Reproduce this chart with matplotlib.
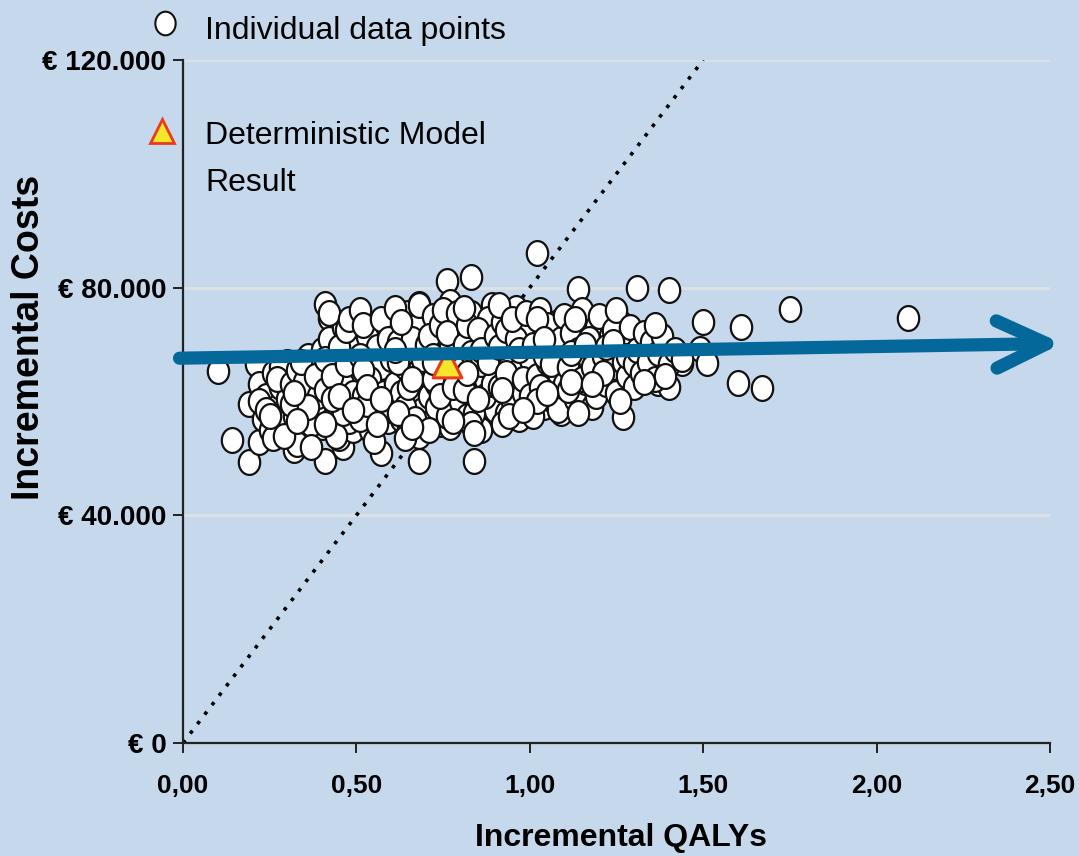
import numpy as np
import matplotlib.pyplot as plt
from matplotlib.patches import ArrowStyle
from matplotlib.path import Path

plt.rcParams['font.family'] = ['Liberation Sans', 'DejaVu Sans']

# Incremental QALYs / incremental costs (k EUR) of the simulation runs
qalys = [
    0.10, 0.14, 0.19, 0.19, 0.22, 0.32, 0.41, 0.68, 0.84, 0.57, 0.46,
    0.76, 0.83, 1.02, 1.14, 1.31, 1.40, 1.50, 1.61, 1.60, 1.67, 1.75, 2.09,
    1.49, 1.51, 1.44, 1.37, 1.40, 1.27, 0.68, 0.41, 0.42,
    0.21, 0.22, 0.23, 0.24, 0.25, 0.26, 0.27, 0.28, 0.29, 0.30, 0.22, 0.26, 0.28, 0.24, 0.30, 0.27,
    0.31, 0.32, 0.33, 0.34, 0.35, 0.36, 0.37, 0.38, 0.39, 0.40, 0.31, 0.33, 0.35, 0.37, 0.39, 0.34,
    0.36, 0.38, 0.32, 0.40,
    0.41, 0.42, 0.43, 0.44, 0.45, 0.46, 0.47, 0.48, 0.49, 0.50, 0.42, 0.44, 0.46, 0.48, 0.50, 0.41,
    0.43, 0.45, 0.47, 0.49, 0.44, 0.46, 0.48, 0.50, 0.43, 0.47,
    0.51, 0.52, 0.53, 0.54, 0.55, 0.56, 0.57, 0.58, 0.59, 0.60, 0.51, 0.53, 0.55, 0.57, 0.59, 0.52,
    0.54, 0.56, 0.58, 0.60, 0.51, 0.53, 0.55, 0.57, 0.59, 0.60, 0.52, 0.56,
    0.61, 0.62, 0.63, 0.64, 0.65, 0.66, 0.67, 0.68, 0.69, 0.70, 0.61, 0.63, 0.65, 0.67, 0.69, 0.62,
    0.64, 0.66, 0.68, 0.70, 0.61, 0.63, 0.65, 0.67, 0.69, 0.64, 0.66, 0.68, 0.70,
    0.71, 0.72, 0.73, 0.74, 0.75, 0.76, 0.77, 0.78, 0.79, 0.80, 0.71, 0.73, 0.75, 0.77, 0.79, 0.72,
    0.74, 0.76, 0.78, 0.80, 0.71, 0.73, 0.75, 0.77, 0.79, 0.72, 0.76, 0.80, 0.74, 0.78,
    0.81, 0.82, 0.83, 0.84, 0.85, 0.86, 0.87, 0.88, 0.89, 0.90, 0.81, 0.83, 0.85, 0.87, 0.89, 0.82,
    0.84, 0.86, 0.88, 0.90, 0.81, 0.83, 0.85, 0.87, 0.89, 0.82, 0.86, 0.90, 0.84, 0.88,
    0.91, 0.92, 0.93, 0.94, 0.95, 0.96, 0.97, 0.98, 0.99, 1.00, 0.91, 0.93, 0.95, 0.97, 0.99, 0.92,
    0.94, 0.96, 0.98, 1.00, 0.91, 0.93, 0.95, 0.97, 0.99, 0.94, 0.98, 1.00,
    1.01, 1.02, 1.03, 1.04, 1.05, 1.06, 1.07, 1.08, 1.09, 1.10, 1.01, 1.03, 1.05, 1.07, 1.09, 1.02,
    1.04, 1.06, 1.08, 1.10, 1.02, 1.04, 1.06, 1.08, 1.10,
    1.11, 1.12, 1.13, 1.14, 1.15, 1.16, 1.17, 1.18, 1.19, 1.20, 1.11, 1.13, 1.15, 1.17, 1.19, 1.12,
    1.14, 1.16, 1.18, 1.20,
    1.21, 1.22, 1.23, 1.24, 1.25, 1.26, 1.27, 1.28, 1.29, 1.30, 1.22, 1.24, 1.26, 1.28, 1.30, 1.21,
    1.25, 1.29,
    1.31, 1.32, 1.33, 1.34, 1.35, 1.36, 1.37, 1.38, 1.40, 1.42, 1.44, 1.33, 1.36, 1.39,
    0.25, 0.29, 0.33, 0.37, 0.41, 0.45, 0.49, 0.53, 0.57, 0.62, 0.66, 0.72, 0.78, 0.85, 0.92,
    0.98, 1.05, 1.12, 1.18, 1.24,
]
costs = [
    65.4, 53.2, 49.3, 59.6, 52.8, 51.4, 49.6, 49.6, 49.6, 51.0, 52.0,
    81.2, 81.8, 86.0, 79.8, 80.0, 79.5, 73.9, 73.0, 63.3, 62.3, 76.3, 74.6,
    69.3, 66.8, 66.7, 63.3, 62.5, 57.2, 77.2, 77.2, 74.6,
    66.5, 63.0, 57.0, 61.0, 55.0, 65.0, 59.0, 62.5, 56.0, 67.0, 60.0, 53.5, 66.0, 58.5, 60.5, 64.0,
    63.0, 57.5, 65.5, 60.0, 54.5, 68.0, 62.0, 58.0, 66.0, 55.5, 59.5, 52.5, 63.5, 56.0, 61.0, 67.0,
    59.0, 64.5, 61.5, 69.0,
    62.0, 71.0, 57.0, 66.0, 53.5, 73.0, 60.0, 68.5, 55.0, 64.0, 75.5, 59.0, 63.0, 56.5, 70.5, 67.5,
    64.5, 69.5, 72.5, 61.5, 54.0, 58.0, 74.5, 58.5, 60.5, 66.5,
    76.0, 61.0, 67.0, 55.0, 72.0, 63.5, 58.0, 69.0, 65.0, 74.0, 57.0, 71.5, 60.0, 66.0, 56.5, 73.5,
    64.0, 69.5, 61.5, 67.5, 68.0, 59.5, 53.0, 74.5, 71.0, 58.5, 65.5, 56.0,
    63.0, 70.5, 57.0, 66.0, 75.5, 60.5, 68.0, 54.0, 72.5, 64.5, 76.5, 61.5, 55.5, 73.0, 58.5, 67.0,
    59.0, 71.0, 65.5, 56.0, 69.0, 74.0, 62.5, 57.0, 67.5, 53.5, 64.0, 77.0, 70.0,
    61.0, 75.0, 66.5, 56.0, 70.0, 62.0, 77.5, 58.5, 68.5, 73.0, 71.5, 59.0, 64.5, 55.5, 63.0, 68.0,
    73.5, 57.5, 66.0, 60.0, 55.0, 63.0, 76.0, 69.5, 75.5, 64.0, 72.0, 65.5, 61.0, 62.5,
    70.0, 57.5, 75.5, 63.5, 67.5, 55.0, 72.0, 60.0, 77.0, 65.0, 62.0, 68.5, 59.0, 64.0, 70.5, 73.5,
    58.0, 66.5, 74.5, 58.5, 76.5, 56.0, 72.5, 61.0, 63.0, 65.0, 69.0, 71.5, 54.5, 67.0,
    62.5, 74.0, 58.0, 68.0, 64.0, 76.5, 57.0, 70.5, 66.0, 73.0, 69.5, 72.5, 60.0, 65.5, 59.0, 56.0,
    63.0, 71.0, 61.5, 67.5, 77.0, 65.0, 74.5, 69.0, 75.5, 57.5, 64.0, 61.0,
    70.0, 64.5, 76.0, 59.0, 67.0, 72.5, 62.0, 74.0, 58.0, 69.0, 57.5, 62.5, 73.5, 66.0, 71.0, 74.5,
    68.0, 60.5, 65.0, 63.0, 60.0, 71.0, 66.5, 58.5, 75.0,
    66.0, 72.0, 60.5, 69.0, 76.0, 63.5, 67.5, 59.0, 73.0, 65.0, 62.0, 74.5, 64.0, 71.0, 61.0, 68.5,
    58.0, 70.0, 66.0, 75.0,
    68.0, 63.0, 71.5, 66.0, 61.5, 74.0, 67.0, 64.5, 70.0, 62.5, 69.5, 72.5, 60.0, 68.0, 66.5, 65.0,
    76.0, 73.0,
    69.0, 65.0, 72.0, 67.0, 70.5, 64.0, 68.5, 71.5, 66.5, 69.0, 67.5, 63.5, 73.5, 64.5,
    57.5, 54.0, 56.5, 52.0, 56.0, 61.0, 58.5, 62.5, 60.5, 58.0, 55.5, 67.0, 56.5, 60.5, 62.0,
    58.5, 61.5, 63.5, 63.0, 70.5,
]

det_qaly = [0.76]
det_cost = [66.8]

wtp_x = [0.0, 1.5]
wtp_y = [0.0, 120.0]

trend_x = [-0.01, 2.535]
trend_y = [67.6, 70.2]

x_ticks = [0.0, 0.5, 1.0, 1.5, 2.0, 2.5]
x_labels = ['0,00', '0,50', '1,00', '1,50', '2,00', '2,50']
y_ticks = [0, 40, 80, 120]
y_labels = ['€ 0', '€ 40.000', '€ 80.000', '€ 120.000']

# slightly tall ellipse, like the squeezed circles of the original
t = np.linspace(0, 2 * np.pi, 60)
oval = Path(np.column_stack([0.43 * np.cos(t), 0.5 * np.sin(t)]), closed=True)

bg = '#c6d9ec'
fig = plt.figure(figsize=(10.79, 8.56), dpi=100, facecolor=bg)
ax = fig.add_axes([0.1696, 0.132, 0.8035, 0.798])
ax.set_facecolor(bg)

ax.set_xlim(0, 2.5)
ax.set_ylim(0, 120)

for v in y_ticks[1:]:
    ax.axhline(v, color='#dde1e4', lw=2, zorder=1)

ax.plot(wtp_x, wtp_y, color='black', lw=2.6, linestyle=(0, (1, 2.3)), zorder=2)

ax.scatter(qalys, costs, s=320, marker=oval, facecolor='white', edgecolor='#111111',
           linewidth=1.6, zorder=3)
ax.scatter(det_qaly, det_cost, marker='^', s=430, facecolor='#f4e62a', edgecolor='#ee3a1c',
           linewidth=2.2, zorder=4)

ax.annotate('', xy=(trend_x[1], trend_y[1]), xytext=(trend_x[0], trend_y[0]),
            annotation_clip=False, zorder=5,
            arrowprops=dict(arrowstyle=ArrowStyle('->', head_length=3.6, head_width=1.7),
                            mutation_scale=10, color='#05689a', lw=9.5,
                            capstyle='round', joinstyle='round', shrinkA=0, shrinkB=0))

for s in ['top', 'right']:
    ax.spines[s].set_visible(False)
for s in ['left', 'bottom']:
    ax.spines[s].set_linewidth(1.6)
    ax.spines[s].set_color('#222222')

ax.set_xticks(x_ticks)
ax.set_xticklabels(x_labels, fontsize=19, fontweight='bold')
ax.set_yticks(y_ticks)
ax.set_yticklabels(y_labels, fontsize=20, fontweight='bold')
ax.tick_params(axis='both', length=7, width=1.4, color='#222222')
ax.tick_params(axis='x', pad=15)
ax.tick_params(axis='y', pad=5)

ax.set_xlabel('Incremental QALYs', fontsize=23, fontweight='bold', va='center')
ax.xaxis.set_label_coords(0.505, -0.139)
ax.set_ylabel('Incremental Costs', fontsize=27, fontweight='bold', va='center')
ax.yaxis.set_label_coords(-0.178, 0.593)

# legend drawn by hand at top left
ax.plot([0.153], [0.973], marker=oval, ms=17, mfc='white', mec='#111111', mew=1.5,
        transform=fig.transFigure, clip_on=False)
ax.plot([0.150], [0.847], marker='^', ms=17, mfc='#f4e62a', mec='#ee3a1c', mew=2,
        transform=fig.transFigure, clip_on=False)
fig.text(0.19, 0.964, 'Individual data points', fontsize=23, va='center')
fig.text(0.19, 0.841, 'Deterministic Model', fontsize=23, va='center')
fig.text(0.19, 0.786, 'Result', fontsize=23, va='center')

plt.savefig('out.png', dpi=100, facecolor=bg)
